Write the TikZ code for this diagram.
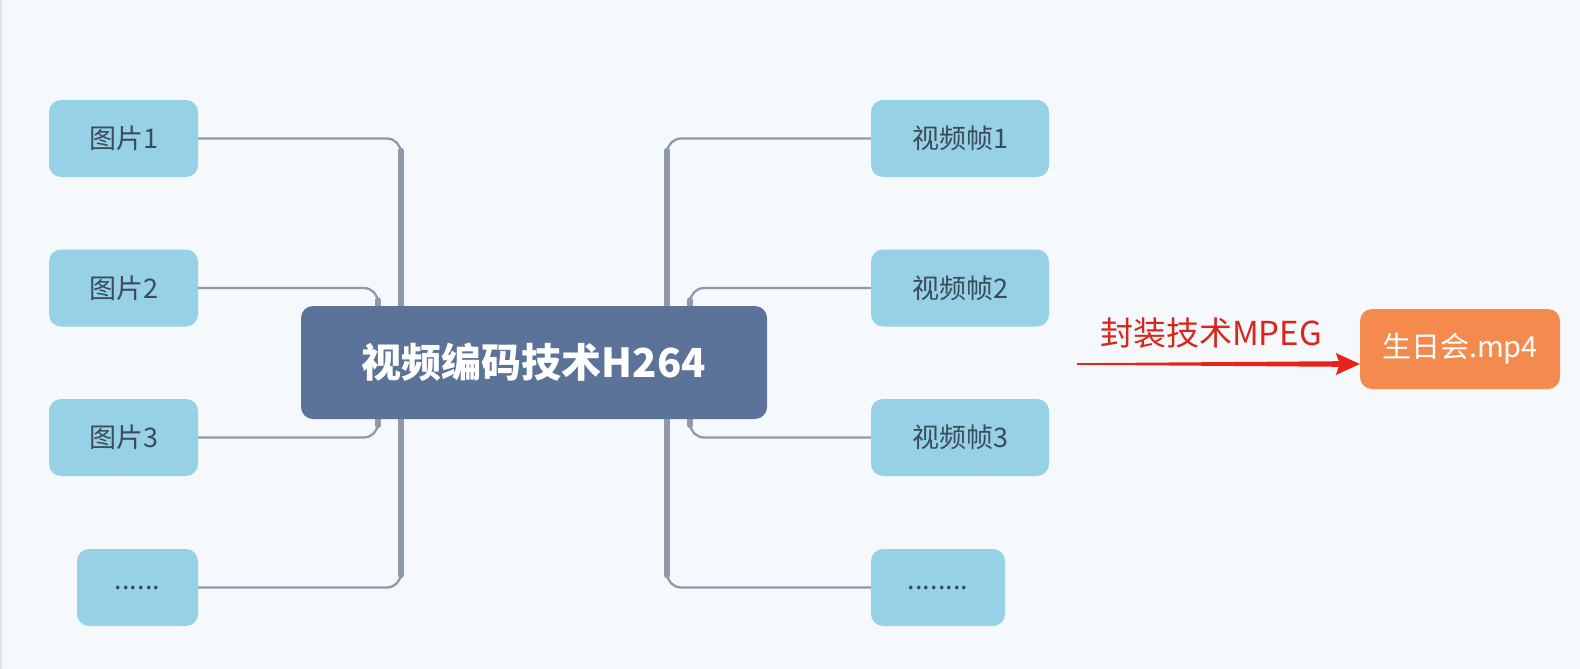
\documentclass[tikz,border=0pt]{standalone}
\usepackage{fontspec}
\setmainfont{Noto Sans CJK SC}
\usetikzlibrary{calc,backgrounds}
\definecolor{bgc}{HTML}{F5F9FC}
\definecolor{edgec}{HTML}{DCE3EA}
\definecolor{leafc}{HTML}{97D1E6}
\definecolor{leaftext}{HTML}{3A4B5A}
\definecolor{rootc}{HTML}{5B7299}
\definecolor{connc}{HTML}{8E99AA}
\definecolor{orangec}{HTML}{F58A4E}
\definecolor{arrowc}{HTML}{E8231A}
\definecolor{labelc}{HTML}{D9261C}
\begin{document}
\begin{tikzpicture}[x=1pt,y=-1pt]
\tikzset{
  leaf/.style={fill=leafc, rounded corners=12pt, minimum height=77pt, inner sep=0pt,
    text=leaftext, font=\fontsize{27}{32}\selectfont},
  rootbox/.style={fill=rootc, rounded corners=12pt, minimum width=466pt, minimum height=113pt,
    inner sep=0pt, text=white, font=\fontsize{40}{46}\selectfont\bfseries},
  filebox/.style={fill=orangec, rounded corners=12pt, minimum width=200pt, minimum height=80pt,
    inner sep=0pt, text=white, font=\fontsize{29}{34}\selectfont},
  conn/.style={draw=connc, line width=2.3pt, rounded corners=14pt},
  trunk/.style={draw=connc, line width=5.5pt, line cap=round},
  lbl/.style={text=labelc, font=\fontsize{33}{38}\selectfont, inner sep=0pt},
}
\useasboundingbox (0,0) rectangle (1580,669);

% nodes
\node[rootbox] (c) at (534,362.5) {视频编码技术H264};
\node[leaf, minimum width=149pt] (l1) at (123.5,138.5) {图片1};
\node[leaf, minimum width=149pt] (l2) at (123.5,288) {图片2};
\node[leaf, minimum width=149pt] (l3) at (123.5,437.5) {图片3};
\node[leaf, minimum width=121pt] (l4) at (137.5,587.5) {......};
\node[leaf, minimum width=178pt] (r1) at (960,138.5) {视频帧1};
\node[leaf, minimum width=178pt] (r2) at (960,288) {视频帧2};
\node[leaf, minimum width=178pt] (r3) at (960,437.5) {视频帧3};
\node[leaf, minimum width=134pt] (r4) at (938,587.5) {........};
\node[filebox] (o) at (1460,349) {生日会.mp4};
\node[lbl] (m) at (1211,333) {封装技术MPEG};

\coordinate (tl) at ($(c.center -| c.west)+(100,0)$);
\coordinate (tl2) at ($(c.center -| c.west)+(77,0)$);
\coordinate (tr) at ($(c.center -| c.east)+(-100,0)$);
\coordinate (tr2) at ($(c.center -| c.east)+(-77,0)$);
\coordinate (ms) at (1077,364);
\coordinate (at) at (ms -| o.west);

\begin{pgfonlayer}{background}
  \fill[bgc] (0,0) rectangle (1580,669);
  \draw[edgec, line width=1.5pt] (1,0) -- (1,669);
  % left connectors
  \draw[conn] (l1.east) -- (l1.east -| tl) -- (tl);
  \draw[trunk] ($(l1.east -| tl)+(0,12)$) -- (tl);
  \draw[conn] (l4.east) -- (l4.east -| tl) -- (tl);
  \draw[trunk] ($(l4.east -| tl)+(0,-12)$) -- (tl);
  \draw[conn] (l2.east) -- (l2.east -| tl2) -- (tl2);
  \draw[trunk] ($(l2.east -| tl2)+(0,12)$) -- (tl2);
  \draw[conn] (l3.east) -- (l3.east -| tl2) -- (tl2);
  \draw[trunk] ($(l3.east -| tl2)+(0,-12)$) -- (tl2);
  % right connectors
  \draw[conn] (r1.west) -- (r1.west -| tr) -- (tr);
  \draw[trunk] ($(r1.west -| tr)+(0,12)$) -- (tr);
  \draw[conn] (r4.west) -- (r4.west -| tr) -- (tr);
  \draw[trunk] ($(r4.west -| tr)+(0,-12)$) -- (tr);
  \draw[conn] (r2.west) -- (r2.west -| tr2) -- (tr2);
  \draw[trunk] ($(r2.west -| tr2)+(0,12)$) -- (tr2);
  \draw[conn] (r3.west) -- (r3.west -| tr2) -- (tr2);
  \draw[trunk] ($(r3.west -| tr2)+(0,-12)$) -- (tr2);
\end{pgfonlayer}

% tapered red arrow into the file node
\fill[arrowc] ($(ms)+(0,-0.8)$) -- ($(at)+(-21,-2.8)$) -- ($(at)+(-24,-11)$) -- (at)
  -- ($(at)+(-24,11)$) -- ($(at)+(-21,2.8)$) -- ($(ms)+(0,0.8)$) -- cycle;
\end{tikzpicture}
\end{document}
